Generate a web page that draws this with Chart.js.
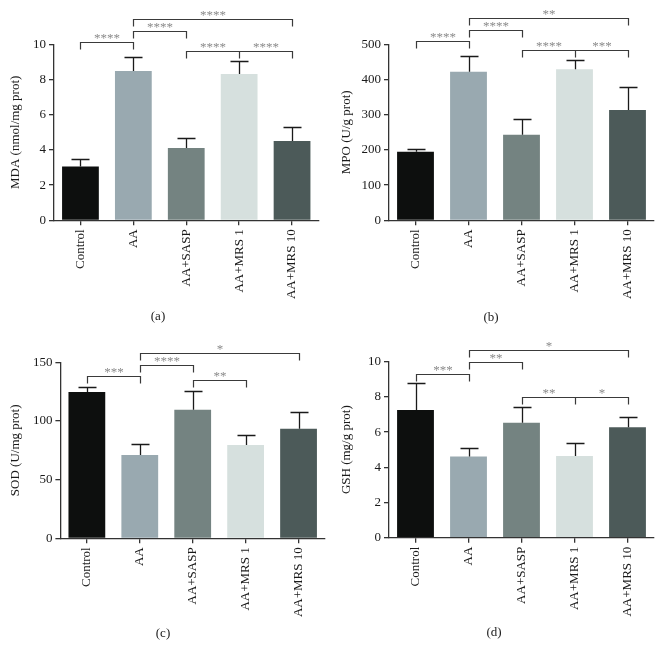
<!DOCTYPE html>
<html><head><meta charset="utf-8">
<script src="https://cdn.jsdelivr.net/npm/chart.js@4.4.0/dist/chart.umd.min.js"></script>
<style>
html,body{margin:0;padding:0;background:#fff;}
#wrap{position:relative;width:663px;height:659px;overflow:hidden;background:#fff;}
.panel{position:absolute;}
.lbl{position:absolute;font:13px "Liberation Serif",serif;color:#222;transform:translate(-50%,-50%);white-space:nowrap;}
</style></head><body>
<div id="wrap">
  <div class="panel" style="left:0px;top:0px;width:331px;height:330px"><canvas id="ca"></canvas></div>
  <div class="panel" style="left:331px;top:0px;width:332px;height:330px"><canvas id="cb"></canvas></div>
  <div class="panel" style="left:0px;top:330px;width:331px;height:329px"><canvas id="cc"></canvas></div>
  <div class="panel" style="left:331px;top:330px;width:332px;height:329px"><canvas id="cd"></canvas></div>
  <div class="lbl" style="left:158px;top:316px">(a)</div>
  <div class="lbl" style="left:491px;top:317px">(b)</div>
  <div class="lbl" style="left:163px;top:633px">(c)</div>
  <div class="lbl" style="left:494px;top:632px">(d)</div>
</div>
<script>
// ---- data ----
const categories = ['Control', 'AA', 'AA+SASP', 'AA+MRS 1', 'AA+MRS 10'];
const barColors = ['#0d0f0e', '#99a9b0', '#748381', '#d6e0de', '#4c5a59'];

const mdaMeans = [3.05, 8.48, 4.11, 8.31, 4.50];
const mdaErrors = [0.42, 0.78, 0.55, 0.72, 0.82];
const mdaBrackets = [
  {from: 0, to: 1, level: 10.11, stars: '****'},
  {from: 1, to: 2, level: 10.76, stars: '****'},
  {from: 1, to: 4, level: 11.44, stars: '****'},
  {from: 2, to: 4, mid: 3, level: 9.62, stars: '****', stars2: '****'}
];

const mpoMeans = [195, 422, 243, 429, 313];
const mpoErrors = [8, 46, 45, 26, 65];
const mpoBrackets = [
  {from: 0, to: 1, level: 508, stars: '****'},
  {from: 1, to: 2, level: 540, stars: '****'},
  {from: 1, to: 4, level: 574, stars: '**'},
  {from: 2, to: 4, mid: 3, level: 484, stars: '****', stars2: '***'}
];

const sodMeans = [124.7, 71.0, 109.6, 79.5, 93.4];
const sodErrors = [4.5, 9.1, 15.7, 8.8, 14.2];
const sodBrackets = [
  {from: 0, to: 1, level: 138.1, stars: '***'},
  {from: 1, to: 2, level: 147.7, stars: '****'},
  {from: 1, to: 4, level: 158.2, stars: '*'},
  {from: 2, to: 3, level: 134.9, stars: '**'}
];

const gshMeans = [7.26, 4.62, 6.53, 4.64, 6.27];
const gshErrors = [1.51, 0.49, 0.88, 0.72, 0.61];
const gshBrackets = [
  {from: 0, to: 1, level: 9.32, stars: '***'},
  {from: 1, to: 2, level: 9.98, stars: '**'},
  {from: 1, to: 4, level: 10.68, stars: '*'},
  {from: 2, to: 4, mid: 3, level: 7.98, stars: '**', stars2: '*'}
];

// ---- drawing ----
const FONT = '"Liberation Serif", "Times New Roman", serif';

function makeAnnot(means, errors, brackets) {
  return {
    id: 'annot',
    afterDatasetsDraw(chart) {
      const ctx = chart.ctx, x = chart.scales.x, y = chart.scales.y;
      ctx.save();
      // error bars (upper only)
      ctx.strokeStyle = '#1a1a1a';
      ctx.lineWidth = 1.3;
      means.forEach((m, i) => {
        const px = Math.round(x.getPixelForValue(i)) + 0.5;
        const y0 = y.getPixelForValue(m);
        const y1 = Math.round(y.getPixelForValue(m + errors[i])) + 0.5;
        ctx.beginPath();
        ctx.moveTo(px, y0); ctx.lineTo(px, y1);
        ctx.moveTo(px - 9, y1); ctx.lineTo(px + 9, y1);
        ctx.stroke();
      });
      // significance brackets
      const leg = 7;
      brackets.forEach(b => {
        const x1 = Math.round(x.getPixelForValue(b.from)) + 0.5;
        const x2 = Math.round(x.getPixelForValue(b.to)) + 0.5;
        const yy = Math.round(y.getPixelForValue(b.level)) + 0.5;
        ctx.strokeStyle = '#3a3a3a';
        ctx.lineWidth = 1.2;
        ctx.beginPath();
        ctx.moveTo(x1, yy + leg); ctx.lineTo(x1, yy); ctx.lineTo(x2, yy); ctx.lineTo(x2, yy + leg);
        let xm = null;
        if (b.mid !== undefined) {
          xm = Math.round(x.getPixelForValue(b.mid)) + 0.5;
          ctx.moveTo(xm, yy); ctx.lineTo(xm, yy + leg);
        }
        ctx.stroke();
        ctx.fillStyle = '#8a8a8a';
        ctx.font = '13px ' + FONT;
        ctx.textAlign = 'center';
        ctx.textBaseline = 'alphabetic';
        if (xm !== null) {
          ctx.fillText(b.stars, (x1 + xm) / 2, yy - 1);
          ctx.fillText(b.stars2, (xm + x2) / 2, yy - 1);
        } else {
          ctx.fillText(b.stars, (x1 + x2) / 2, yy - 1);
        }
      });
      ctx.restore();
    }
  };
}

function makeChart(id, means, errors, brackets, yTitle, yMax, yStep, geo) {
  new Chart(document.getElementById(id), {
    type: 'bar',
    data: {
      labels: categories,
      datasets: [{
        data: means,
        backgroundColor: barColors,
        borderWidth: 0,
        barPercentage: 0.695,
        categoryPercentage: 1.0
      }]
    },
    options: {
      responsive: true,
      maintainAspectRatio: false,
      animation: false,
      devicePixelRatio: 1,
      layout: {padding: {top: geo.top, right: geo.right, left: 0, bottom: 0}},
      plugins: {legend: {display: false}, tooltip: {enabled: false}, title: {display: false}},
      scales: {
        x: {
          offset: true,
          grid: {offset: false, drawOnChartArea: false, drawTicks: true, tickLength: 5, color: '#333', lineWidth: 1.3},
          border: {display: true, color: '#333', width: 1.3},
          ticks: {minRotation: 90, maxRotation: 90, autoSkip: false, padding: 4, color: '#1a1a1a',
                  font: {family: FONT, size: 13}},
          afterFit: s => { s.height = geo.xh; }
        },
        y: {
          min: 0, max: yMax,
          grid: {drawOnChartArea: false, drawTicks: true, tickLength: 5, color: '#333', lineWidth: 1.3},
          border: {display: true, color: '#333', width: 1.3},
          ticks: {stepSize: yStep, padding: 3, color: '#1a1a1a', font: {family: FONT, size: 13}},
          title: {display: true, text: yTitle, color: '#1a1a1a', font: {family: FONT, size: 13}, padding: {top: 8, bottom: 0}},
          afterFit: s => { s.width = geo.yw; }
        }
      }
    },
    plugins: [makeAnnot(means, errors, brackets)]
  });
}

makeChart('ca', mdaMeans, mdaErrors, mdaBrackets, 'MDA (nmol/mg prot)', 10, 2,
  {top: 44.3, right: 12.5, yw: 54, xh: 109.7});
makeChart('cb', mpoMeans, mpoErrors, mpoBrackets, 'MPO (U/g prot)', 500, 100,
  {top: 44.3, right: 9, yw: 58, xh: 109.7});
makeChart('cc', sodMeans, sodErrors, sodBrackets, 'SOD (U/mg prot)', 150, 50,
  {top: 32.3, right: 6, yw: 60.4, xh: 120.7});
makeChart('cd', gshMeans, gshErrors, gshBrackets, 'GSH (mg/g prot)', 10, 2,
  {top: 31.7, right: 9, yw: 58, xh: 121.3});
</script>
</body></html>
